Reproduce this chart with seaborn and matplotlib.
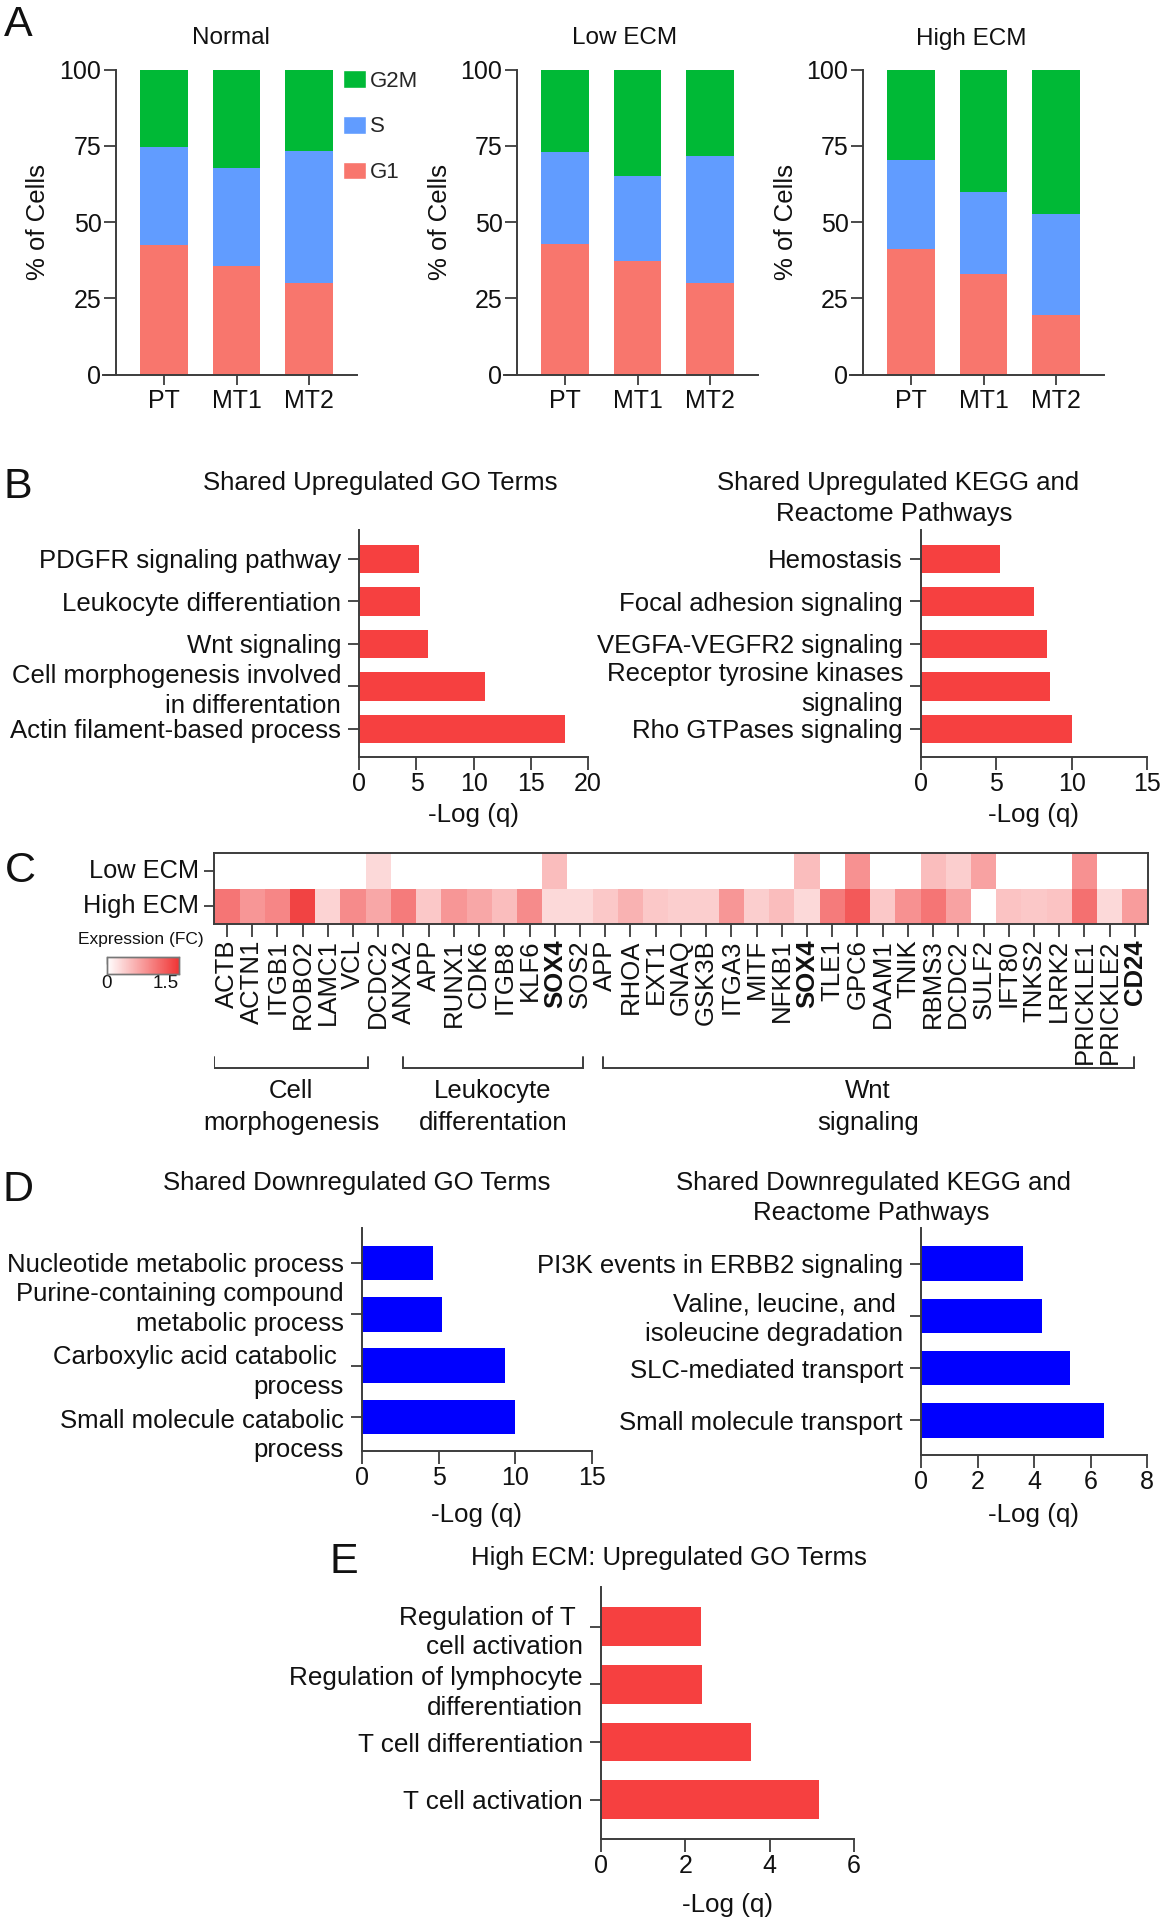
import numpy as np
import pandas as pd
import matplotlib
matplotlib.use("Agg")
import matplotlib.pyplot as plt
import matplotlib.transforms as mtransforms
import seaborn as sns
from matplotlib.colors import LinearSegmentedColormap
from matplotlib.patches import Patch

sns.set_theme(style="white")
plt.rcParams['font.family'] = ['Liberation Sans', 'DejaVu Sans']

# ---------------- data ----------------
samples = ["PT", "MT1", "MT2"]
conditions = ["Normal", "Low ECM", "High ECM"]
g1_normal = [42.3, 35.7, 30.1]
s_normal = [32.2, 32.1, 43.3]
g2m_normal = [25.5, 32.2, 26.6]
g1_low = [42.8, 37.2, 30.0]
s_low = [30.3, 27.9, 41.6]
g2m_low = [26.9, 34.9, 28.4]
g1_high = [41.2, 32.9, 19.4]
s_high = [29.0, 26.8, 33.3]
g2m_high = [29.8, 40.3, 47.3]

up_go_terms = ["PDGFR signaling pathway", "Leukocyte differentiation", "Wnt signaling",
               "Cell morphogenesis involved\nin differentation", "Actin filament-based process"]
up_go_vals = [5.2, 5.3, 6.05, 11.0, 18.0]
up_kegg_terms = ["Hemostasis", "Focal adhesion signaling", "VEGFA-VEGFR2 signaling",
                 "Receptor tyrosine kinases\nsignaling", "Rho GTPases signaling"]
up_kegg_vals = [5.25, 7.5, 8.35, 8.55, 10.0]

genes = ["ACTB", "ACTN1", "ITGB1", "ROBO2", "LAMC1", "VCL", "DCDC2", "ANXA2", "APP", "RUNX1",
         "CDK6", "ITGB8", "KLF6", "SOX4", "SOS2", "APP", "RHOA", "EXT1", "GNAQ", "GSK3B",
         "ITGA3", "MITF", "NFKB1", "SOX4", "TLE1", "GPC6", "DAAM1", "TNIK", "RBMS3", "DCDC2",
         "SULF2", "IFT80", "TNKS2", "LRRK2", "PRICKLE1", "PRICKLE2", "CD24"]
bold_genes = ["SOX4", "CD24"]
heat_rows = ["Low ECM", "High ECM"]
low_fc = [0, 0, 0, 0, 0, 0, 0.35, 0, 0, 0,
          0, 0, 0, 0.6, 0, 0, 0, 0, 0, 0,
          0, 0, 0, 0.6, 0, 1.0, 0, 0, 0.6, 0.45,
          0.85, 0, 0, 0, 1.0, 0, 0]
high_fc = [1.25, 0.95, 1.1, 1.7, 0.4, 1.05, 0.8, 1.2, 0.5, 0.95,
           0.8, 0.6, 1.05, 0.35, 0.35, 0.5, 0.7, 0.5, 0.45, 0.45,
           0.95, 0.45, 0.6, 0.35, 1.2, 1.5, 0.5, 1.0, 1.25, 0.85,
           0.0, 0.55, 0.5, 0.55, 1.3, 0.35, 0.9]
gene_groups = ["Cell\nmorphogenesis", "Leukocyte\ndifferentation", "Wnt\nsignaling"]
group_spans = [(0.0, 6.1), (7.5, 14.6), (15.4, 36.45)]

down_go_terms = ["Nucleotide metabolic process", "Purine-containing compound\nmetabolic process",
                 "Carboxylic acid catabolic \nprocess", "Small molecule catabolic\nprocess"]
down_go_vals = [4.65, 5.2, 9.3, 9.95]
down_kegg_terms = ["PI3K events in ERBB2 signaling", "Valine, leucine, and \nisoleucine degradation",
                   "SLC-mediated transport", "Small molecule transport"]
down_kegg_vals = [3.6, 4.3, 5.28, 6.48]

e_terms = ["Regulation of T \ncell activation", "Regulation of lymphocyte\ndifferentiation",
           "T cell differentiation", "T cell activation"]
e_vals = [2.36, 2.4, 3.56, 5.16]

# ---------------- styles ----------------
W, H = 1161, 1920
fig = plt.figure(figsize=(W / 100, H / 100), dpi=100)
AXC = "#3c3c3c"
TXT = "#111111"
C_G2M, C_S, C_G1 = "#00B936", "#619CFF", "#F8766D"
RED, BLUE = "#F64040", "#0000FF"
LAB = 18.5   # category label size
TICK = 18    # numeric tick size
TITLE = 18.5


def rect(x0, y0, x1, y1):
    return [x0 / W, 1 - y1 / H, (x1 - x0) / W, (y1 - y0) / H]


def ftext(x, y, s, **kw):
    kw.setdefault("ha", "center")
    kw.setdefault("va", "center")
    kw.setdefault("color", TXT)
    return fig.text(x / W, 1 - y / H, s, **kw)


def style(ax):
    sns.despine(ax=ax)
    for s in ["left", "bottom"]:
        ax.spines[s].set_color(AXC)
        ax.spines[s].set_linewidth(1.4)
    ax.set_facecolor("none")


# ---------------- panel A ----------------
a_data = {"Normal": (g1_normal, s_normal, g2m_normal),
          "Low ECM": (g1_low, s_low, g2m_low),
          "High ECM": (g1_high, s_high, g2m_high)}
a_left = {"Normal": 103, "Low ECM": 504, "High ECM": 850}
a_title_x = {"Normal": 231, "Low ECM": 625, "High ECM": 971}
a_ylab_x = {"Normal": 38, "Low ECM": 440, "High ECM": 786}
for cond in conditions:
    g1, s, g2m = a_data[cond]
    x0 = a_left[cond]
    ax = fig.add_axes(rect(x0, 69.5, x0 + 254, 374.5))
    top_s = [a + b for a, b in zip(g1, s)]
    tot = [a + b for a, b in zip(top_s, g2m)]
    sns.barplot(x=samples, y=tot, color=C_G2M, saturation=1, width=0.66, errorbar=None, ax=ax)
    sns.barplot(x=samples, y=top_s, color=C_S, saturation=1, width=0.66, errorbar=None, ax=ax)
    sns.barplot(x=samples, y=g1, color=C_G1, saturation=1, width=0.66, errorbar=None, ax=ax)
    for p in ax.patches:
        p.set_linewidth(0)
    ax.set_xlim(-0.84, 2.66)
    ax.set_ylim(0, 100)
    ax.set_yticks([0, 25, 50, 75, 100])
    style(ax)
    ax.spines["left"].set_position(("data", -0.66))
    ax.tick_params(axis="y", left=True, length=9, width=1.3, color=AXC, labelsize=TICK, pad=1.5,
                   labelcolor=TXT)
    ax.tick_params(axis="x", bottom=True, length=7, width=1.3, color=AXC, labelsize=18, pad=3.5,
                   labelcolor=TXT)
    ax.set_xlabel("")
    ax.set_ylabel("")
    ftext(a_title_x[cond], 38.5, cond, fontsize=17.5)
    ftext(a_ylab_x[cond], 222, "% of Cells", fontsize=18.5, rotation=90)

handles = [Patch(facecolor=C_G2M, label="G2M"), Patch(facecolor=C_S, label="S"),
           Patch(facecolor=C_G1, label="G1")]
fig.legend(handles=handles, loc="upper left", bbox_to_anchor=(343 / W, 1 - 70 / H),
           frameon=False, fontsize=16, handlelength=1.05, handleheight=0.85,
           handletextpad=0.15, labelspacing=1.09, borderpad=0, borderaxespad=0)


# ---------------- horizontal bar helper ----------------
def hbar(r, terms, vals, color, xmax, xticks, top_pad, bot_pad, labelsize=LAB, shifts=None):
    ax = fig.add_axes(rect(*r))
    df = pd.DataFrame({"term": terms, "val": vals})
    sns.barplot(data=df, x="val", y="term", orient="h", color=color, saturation=1,
                width=0.67, errorbar=None, ax=ax)
    for p in ax.patches:
        p.set_linewidth(0)
    n = len(terms)
    ax.set_xlim(0, xmax)
    ax.set_xticks(xticks)
    ax.set_ylim(n - 1 + bot_pad, -top_pad)
    ax.set_xlabel("")
    ax.set_ylabel("")
    style(ax)
    ax.tick_params(axis="y", left=True, length=8, width=1.3, color=AXC, labelsize=labelsize,
                   pad=5, labelcolor=TXT)
    ax.tick_params(axis="x", bottom=True, length=9, width=1.3, color=AXC, labelsize=TICK,
                   pad=1.5, labelcolor=TXT)
    for i, t in enumerate(ax.get_yticklabels()):
        t.set_multialignment("right")
        t.set_linespacing(1.3)
        if shifts is not None and shifts[i]:
            off = mtransforms.ScaledTranslation(0, -shifts[i] / 100, fig.dpi_scale_trans)
            t.set_transform(t.get_transform() + off)
    return ax


# ---------------- panel B ----------------
hbar((359.3, 530, 588, 757), up_go_terms, up_go_vals, RED, 20, [0, 5, 10, 15, 20], 0.68, 0.66,
     shifts=[0, 0, 0, -1, 0])
hbar((921, 530, 1147, 757), up_kegg_terms, up_kegg_vals, RED, 15, [0, 5, 10, 15], 0.68, 0.66,
     shifts=[0, 0, 0, -3, 0])
ftext(380.5, 483, "Shared Upregulated GO Terms", fontsize=TITLE)
ftext(898, 483, "Shared Upregulated KEGG and", fontsize=TITLE)
ftext(894, 514, "Reactome Pathways", fontsize=TITLE)
ftext(473.6, 815, "-Log (q)", fontsize=18.7)
ftext(1034, 815, "-Log (q)", fontsize=18.7)

# ---------------- panel C (heatmap) ----------------
cmap = LinearSegmentedColormap.from_list("wr", ["#FFFFFF", "#F03535"])
ax_hm = fig.add_axes(rect(214.3, 853.3, 1147.5, 924))
cax = fig.add_axes(rect(107, 957, 179, 974))
sns.heatmap(np.array([low_fc, high_fc]), ax=ax_hm, cmap=cmap, vmin=0, vmax=1.83,
            cbar_ax=cax, cbar_kws={"orientation": "horizontal"},
            xticklabels=genes, yticklabels=heat_rows)
for sp in ax_hm.spines.values():
    sp.set_visible(True)
    sp.set_color(AXC)
    sp.set_linewidth(1.4)
ax_hm.tick_params(axis="x", bottom=True, length=9, width=1.3, color=AXC, labelsize=18.5,
                  labelrotation=90, pad=2, labelcolor=TXT)
ax_hm.tick_params(axis="y", left=True, length=7, width=1.3, color=AXC, labelsize=18.3,
                  labelrotation=0, pad=4, labelcolor=TXT)
for t in ax_hm.get_xticklabels():
    if t.get_text() in bold_genes:
        t.set_fontweight("bold")

cax.set_xticks([0, 0.5, 1.0, 1.5])
cax.set_xticklabels(["0", "", "", "1.5"])
cax.tick_params(axis="x", top=True, bottom=False, labeltop=False, labelbottom=True,
                direction="in", length=5, width=1, color="#555555", labelsize=13.5, pad=1,
                labelcolor=TXT)
for sp in cax.spines.values():
    sp.set_visible(True)
    sp.set_color("#777777")
    sp.set_linewidth(1)
ftext(141, 940, "Expression (FC)", fontsize=12.5)

# brackets
ax_br = fig.add_axes(rect(214.3, 1045, 1147.5, 1140))
ax_br.set_xlim(0, len(genes))
ax_br.set_ylim(1140, 1045)
ax_br.axis("off")
for name, (a, b) in zip(gene_groups, group_spans):
    ax_br.plot([a, a, b, b], [1057, 1068, 1068, 1057], color=AXC, lw=1.4,
               solid_joinstyle="miter")
    ax_br.text((a + b) / 2, 1107, name, ha="center", va="center", fontsize=18.5,
               linespacing=1.4, color=TXT)

# ---------------- panel D ----------------
hbar((362, 1228, 592, 1451), down_go_terms, down_go_vals, BLUE, 15, [0, 5, 10, 15], 0.68, 0.66,
     shifts=[0, -10.5, 1, 13])
hbar((921, 1228, 1147, 1455), down_kegg_terms, down_kegg_vals, BLUE, 8, [0, 2, 4, 6, 8], 0.69, 0.67,
     shifts=[0, -2, 0, 0])
ftext(357, 1183, "Shared Downregulated GO Terms", fontsize=TITLE)
ftext(874, 1183, "Shared Downregulated KEGG and", fontsize=TITLE)
ftext(871, 1213, "Reactome Pathways", fontsize=TITLE)
ftext(476.5, 1515, "-Log (q)", fontsize=18.7)
ftext(1034, 1515, "-Log (q)", fontsize=18.7)

# ---------------- panel E ----------------
hbar((601, 1587, 854, 1839), e_terms, e_vals, RED, 6, [0, 2, 4, 6], 0.69, 0.68, labelsize=18.8,
     shifts=[0.5, 3, 0, 0])
ftext(669, 1558, "High ECM: Upregulated GO Terms", fontsize=TITLE)
ftext(727.5, 1905, "-Log (q)", fontsize=18.7)

# ---------------- panel letters ----------------
for letter, (x, y) in zip("ABCDE", [(18, 25), (18, 487), (20, 871), (18, 1190), (344, 1562)]):
    ftext(x, y, letter, fontsize=31)

fig.savefig("out.png", dpi=100)
